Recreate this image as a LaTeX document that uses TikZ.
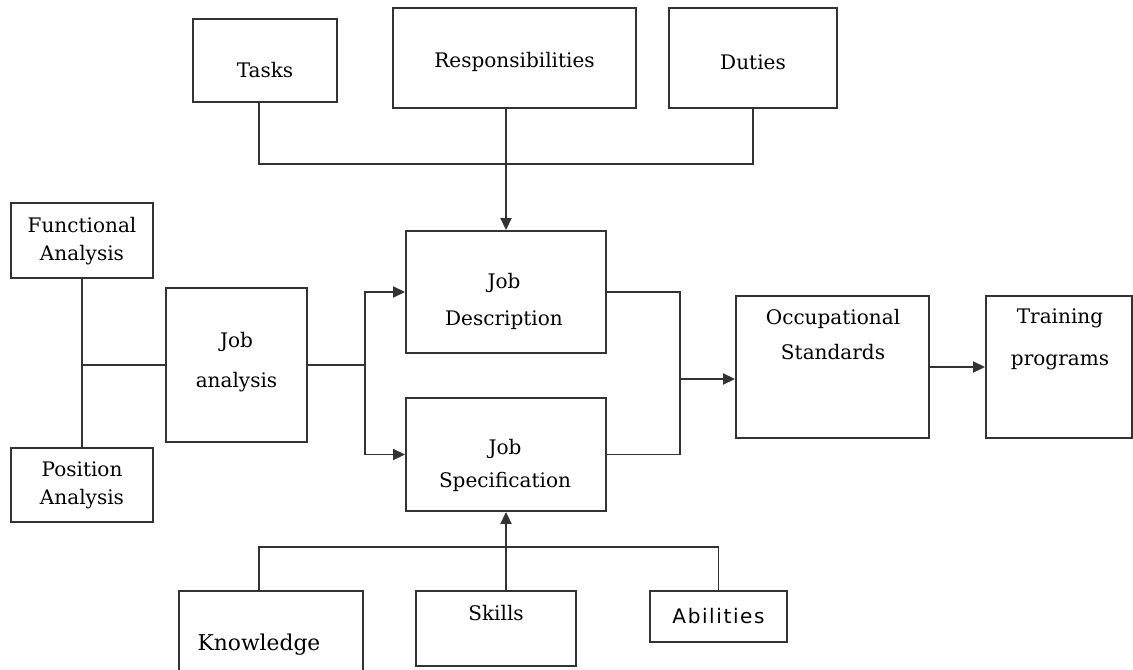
\documentclass[tikz,border=0pt]{standalone}
\usepackage{fontspec}
\setmainfont{DejaVu Serif}
\newfontfamily\absans[LetterSpace=8]{DejaVu Sans}
\usetikzlibrary{arrows.meta}
\tikzset{
  box/.style={draw=black!80, line width=1.1pt, rectangle, inner sep=0pt},
  txt/.style={align=center, font=\fontsize{11.4}{16}\selectfont},
  line/.style={draw=black!80, line width=1.1pt},
  arr/.style={-{Triangle[length=0.24cm,width=0.22cm]}}
}
\begin{document}
\begin{tikzpicture}
  \useasboundingbox (0,0) rectangle (22.66,-13.40);
  \node[box, minimum width=2.88cm, minimum height=1.66cm] (tasks) at (5.30,-1.21) {};
  \node[box, minimum width=4.86cm, minimum height=2.00cm] (resp) at (10.29,-1.16) {};
  \node[box, minimum width=3.36cm, minimum height=2.00cm] (duties) at (15.06,-1.16) {};
  \node[box, minimum width=2.84cm, minimum height=1.50cm] (fa) at (1.64,-4.81) {};
  \node[box, minimum width=2.84cm, minimum height=1.48cm] (pa) at (1.64,-9.70) {};
  \node[box, minimum width=2.82cm, minimum height=3.08cm] (ja) at (4.73,-7.30) {};
  \node[box, minimum width=4.00cm, minimum height=2.44cm] (jd) at (10.12,-5.84) {};
  \node[box, minimum width=4.00cm, minimum height=2.26cm] (js) at (10.12,-9.09) {};
  \node[box, minimum width=3.86cm, minimum height=2.84cm] (os) at (16.65,-7.34) {};
  \node[box, minimum width=2.92cm, minimum height=2.84cm] (tp) at (21.18,-7.34) {};
  \node[box, minimum width=3.20cm, minimum height=1.50cm] (skills) at (9.92,-12.57) {};
  \node[box, minimum width=2.74cm, minimum height=1.02cm] (abil) at (14.37,-12.33) {};
  \node[box, minimum width=3.68cm, minimum height=1.78cm] (know) at (5.42,-12.71) {};
  \node[txt] (tasks-t) at (5.30,-1.40) {Tasks};
  \node[txt] (resp-t) at (10.29,-1.24) {Responsibilities};
  \node[txt] (duties-t) at (15.06,-1.24) {Duties};
  \node[txt] (fa-t) at (1.64,-4.82) {Functional\\Analysis};
  \node[txt] (pa-t) at (1.64,-9.71) {Position\\Analysis};
  \node[txt] (ja-t) at (4.73,-7.24) {Job\\[7pt]analysis};
  \node[txt] (jd-t) at (10.08,-6.03) {Job\\[5pt]Description};
  \node[txt] (js-t) at (10.10,-9.31) {Job\\[3pt]Specification};
  \node[txt] (os-t) at (16.66,-6.69) {Occupational\\[4pt]Standards};
  \node[txt] (tp-t) at (21.20,-6.78) {Training\\[8pt]programs};
  \node[txt] (skills-t) at (9.92,-12.26) {Skills};
  \node[txt, font=\fontsize{11.4}{16}\absans] (abil-t) at (14.37,-12.32) {Abilities};
  \node[txt, font=\fontsize{12.4}{16}\selectfont] (know-t) at (5.18,-12.90) {Knowledge};
  \coordinate (tbar) at (10.12,-3.28);
  \coordinate (split) at (7.30,-7.30);
  \coordinate (merge) at (13.60,-7.58);
  \coordinate (bbar) at (10.12,-10.94);
  \draw[line] ([xshift=-0.12cm]tasks.south) |- (tbar) -| (duties.south);
  \draw[line, arr] (resp.south -| jd.north) -- (jd.north);
  \draw[line] (fa.south) -- (pa.north);
  \draw[line] (fa.south |- ja.west) -- (ja.west);
  \draw[line] (ja.east) -- (split);
  \draw[line, arr] (split) |- (jd.west);
  \draw[line, arr] (split) |- (js.west);
  \draw[line] (jd.east) -| (merge) |- (js.east);
  \draw[line, arr] (merge) -- (merge -| os.west);
  \draw[line, arr] (os) -- (tp);
  \draw[line] ([xshift=-0.24cm]know.north) |- (bbar) -| (abil.north);
  \draw[line, arr] (skills.north -| js.south) -- (js.south);
\end{tikzpicture}
\end{document}
